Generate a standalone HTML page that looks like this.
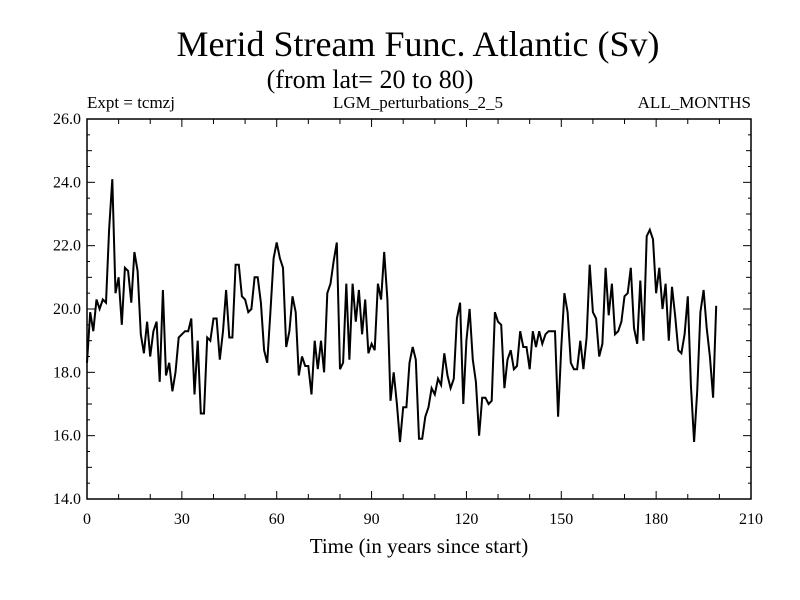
<!DOCTYPE html>
<html><head><meta charset="utf-8"><style>
body{margin:0;background:#fff}
svg{display:block;font-family:"Liberation Serif",serif}
</style></head><body>
<svg id="chart" width="800" height="600">
<rect width="800" height="600" fill="#fff"/>
<text x="418" y="56" font-size="36" text-anchor="middle">Merid Stream Func. Atlantic (Sv)</text>
<text x="370" y="88" font-size="26" text-anchor="middle">(from lat= 20 to 80)</text>
<text x="87" y="108" font-size="17">Expt = tcmzj</text>
<text x="418" y="108" font-size="17" text-anchor="middle">LGM_perturbations_2_5</text>
<text x="751" y="108" font-size="17" text-anchor="end">ALL_MONTHS</text>
<text x="419" y="553" font-size="21" text-anchor="middle">Time (in years since start)</text>
<g id="axes"></g>
<path id="series" fill="none" stroke="#000" stroke-width="2"/>
</svg>
<script>
const values=[18.3,19.9,19.3,20.3,20.0,20.3,20.2,22.5,24.1,20.5,21.0,19.5,21.3,21.2,20.2,21.8,21.2,19.2,18.6,19.6,
18.5,19.3,19.6,17.7,20.6,17.9,18.3,17.4,18.0,19.1,19.2,19.3,19.3,19.7,17.3,19.0,16.7,16.7,19.1,19.0,
19.7,19.7,18.4,19.3,20.6,19.1,19.1,21.4,21.4,20.4,20.3,19.9,20.0,21.0,21.0,20.2,18.7,18.3,19.9,21.6,
22.1,21.6,21.3,18.8,19.3,20.4,19.9,17.9,18.5,18.2,18.2,17.3,19.0,18.1,19.0,18.0,20.5,20.8,21.5,22.1,
18.1,18.3,20.8,18.4,20.8,19.6,20.6,19.2,20.3,18.6,18.9,18.7,20.8,20.3,21.8,20.3,17.1,18.0,17.0,15.8,
16.9,16.9,18.3,18.8,18.4,15.9,15.9,16.6,16.9,17.5,17.3,17.8,17.6,18.6,17.9,17.5,17.8,19.7,20.2,17.0,
19.0,20.0,18.4,17.7,16.0,17.2,17.2,17.0,17.1,19.9,19.6,19.5,17.5,18.4,18.7,18.1,18.2,19.3,18.8,18.8,
18.1,19.3,18.8,19.3,18.9,19.2,19.3,19.3,19.3,16.6,18.8,20.5,19.9,18.3,18.1,18.1,19.0,18.1,19.1,21.4,
19.9,19.7,18.5,18.9,21.3,19.8,20.8,19.2,19.3,19.6,20.4,20.5,21.3,19.4,18.9,20.9,19.0,22.3,22.5,22.2,
20.5,21.3,20.0,20.8,19.0,20.7,19.8,18.7,18.6,19.2,20.4,17.6,15.8,17.4,19.9,20.6,19.4,18.5,17.2,20.1];
const xTickLabels=[0,30,60,90,120,150,180,210];
const yTickLabels=["14.0","16.0","18.0","20.0","22.0","24.0","26.0"];
const X0=87,X1=751,Y0=499,Y1=119;
const xs=t=>X0+(t/210)*(X1-X0);
const ys=v=>Y0-((v-14)/12)*(Y0-Y1);
const NS="http://www.w3.org/2000/svg";
const ax=document.getElementById('axes');
function mk(tag,attrs,txt){const e=document.createElementNS(NS,tag);for(const k in attrs)e.setAttribute(k,attrs[k]);if(txt!==undefined)e.textContent=txt;ax.appendChild(e);return e;}
const frame=mk('rect',{x:X0,y:Y1,width:X1-X0,height:Y0-Y1,fill:'none',stroke:'#000','stroke-width':1.5});


for(let t=0;t<=210;t+=10){const major=t%30===0;const L=major?8:5;
 const a=mk('line',{x1:xs(t),x2:xs(t),y1:Y0,y2:Y0-L,stroke:'#000'});
 
 
 const b=mk('line',{x1:xs(t),x2:xs(t),y1:Y1,y2:Y1+L,stroke:'#000'});
 
 }
xTickLabels.forEach(t=>{const e=mk('text',{x:xs(t),y:Y0+25,'font-size':16,'text-anchor':'middle'},String(t));
 
 });
for(let v=14;v<=26;v+=0.5){const major=Math.abs(v%2)<1e-9;const L=major?8:(v%1===0?5:3);
 const a=mk('line',{x1:X0,x2:X0+L,y1:ys(v),y2:ys(v),stroke:'#000'});
 
 
 const b=mk('line',{x1:X1,x2:X1-L,y1:ys(v),y2:ys(v),stroke:'#000'});
 
 }
yTickLabels.forEach(s=>{const e=mk('text',{x:X0-6,y:ys(parseFloat(s))+5,'font-size':16,'text-anchor':'end'},s);
 
 });
document.getElementById('series').setAttribute('d',values.map((v,i)=>(i?'L':'M')+xs(i).toFixed(1)+','+ys(v).toFixed(1)).join(''));
</script>
</body></html>
